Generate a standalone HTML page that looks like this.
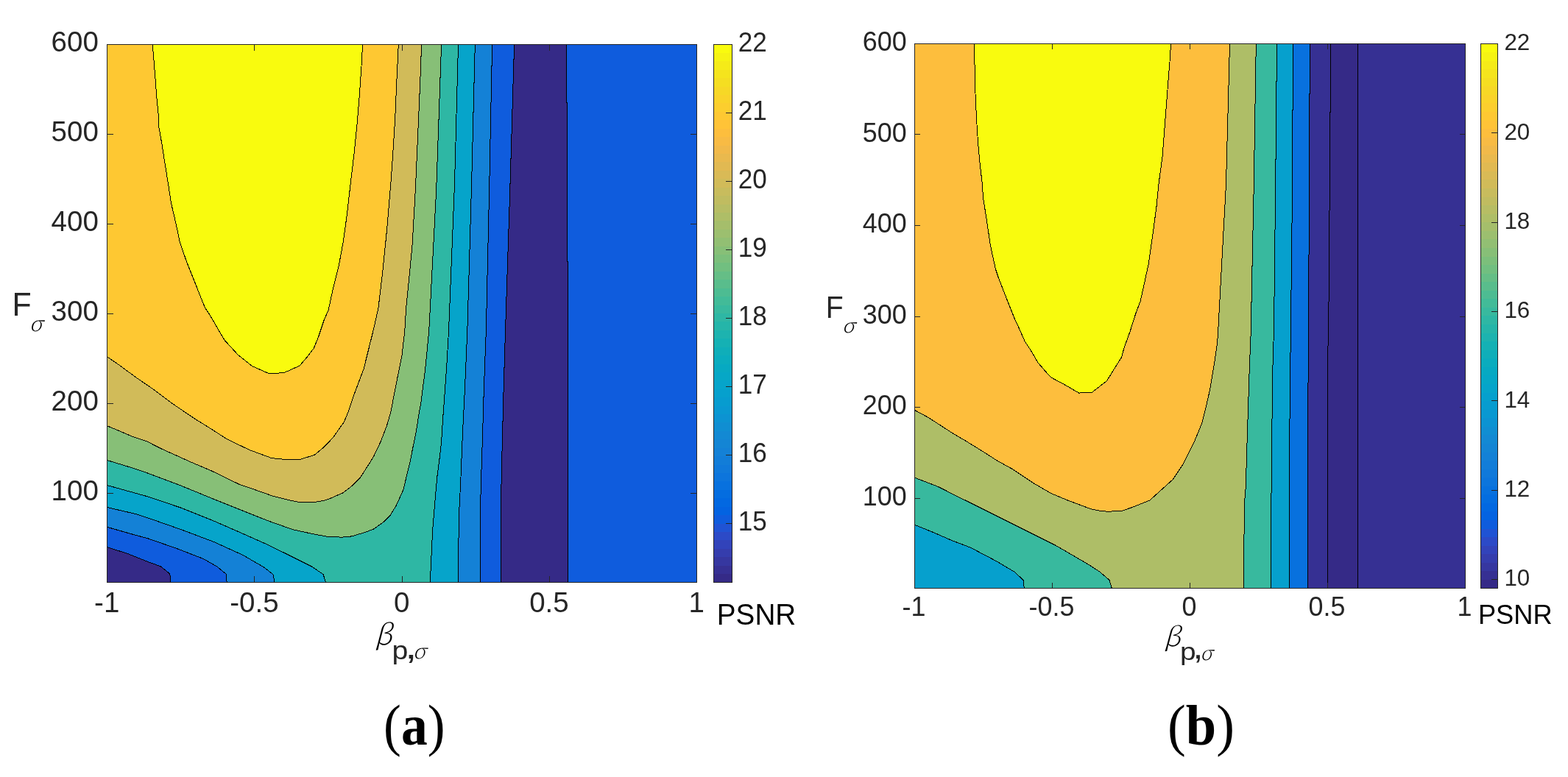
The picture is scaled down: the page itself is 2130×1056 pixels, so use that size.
<!DOCTYPE html>
<html><head><meta charset="utf-8"><title>PSNR contour plots</title>
<style>html,body{margin:0;padding:0;background:#fff;}svg{display:block;}</style></head>
<body><svg width="2130" height="1056" viewBox="0 0 2130 1056">
<rect width="2130" height="1056" fill="#fff"/>
<rect x="145.5" y="60.5" width="801.0" height="731.0" fill="#0f5cdd"/>
<polygon points="698.6,60.5 692.7,260.0 686.5,450.0 684.1,529.5 682.1,609.1 680.1,699.4 680.5,791.5 771.6,791.5 771.6,356.0 770.6,355.0 770.6,140.0 769.6,139.5 769.6,60.5" fill="#352a87"/>
<polygon points="145.5,791.5 145.5,743.6 174.1,752.7 202.5,764.1 218.4,769.8 230.9,780.0 231.5,791.5" fill="#352a87"/>
<polygon points="145.5,60.5 668.6,60.5 664.8,250.0 660.3,450.0 657.3,529.5 655.3,600.0 653.3,660.0 652.3,699.4 652.3,791.5 308.2,791.5 307.0,780.0 294.5,769.8 276.4,759.5 239.4,745.2 200.0,731.5 185.5,727.7 145.5,716.3" fill="#1481d6"/>
<polygon points="145.5,60.5 645.3,60.5 640.6,250.0 634.8,450.0 631.4,529.5 628.4,589.2 625.5,660.0 623.5,699.4 622.1,791.5 373.2,791.5 370.9,780.6 358.4,770.9 344.8,763.0 330.0,754.4 290.9,736.6 245.5,719.5 200.0,703.6 185.5,698.8 145.5,689.5" fill="#06a4ca"/>
<polygon points="145.5,60.5 622.5,60.5 617.5,250.0 609.5,450.0 606.6,499.7 601.6,569.3 599.6,600.0 597.6,619.0 593.6,649.7 587.7,719.3 584.3,791.5 442.5,791.5 439.1,780.6 423.2,769.8 398.2,757.3 364.1,740.5 330.0,725.3 290.9,708.2 245.5,690.0 200.0,674.7 145.5,659.5" fill="#2eb7a4"/>
<polygon points="145.5,60.5 599.6,60.5 592.6,260.0 582.7,450.0 577.7,501.7 571.8,547.4 569.5,560.0 565.0,588.4 560.5,610.0 557.0,628.2 551.4,650.9 547.9,665.6 542.3,678.2 538.0,687.5 530.0,700.5 520.9,709.5 507.3,719.2 494.8,723.8 477.7,728.9 464.1,730.2 443.6,729.1 426.6,726.0 398.2,719.8 364.1,707.8 330.0,694.2 290.9,678.6 245.5,659.9 200.0,642.8 179.8,635.9 145.5,625.5" fill="#87bf77"/>
<polygon points="145.5,60.5 572.4,60.5 571.8,85.8 568.4,165.3 564.2,260.0 560.0,333.5 555.6,379.3 551.6,419.0 549.8,450.0 545.9,483.8 539.8,513.6 534.0,543.5 530.9,560.0 525.2,579.3 517.3,599.8 508.2,619.1 503.6,627.0 488.9,649.8 478.6,660.0 466.1,669.7 446.8,678.2 441.4,680.0 430.0,682.0 403.9,682.0 393.6,680.0 370.5,674.1 338.9,663.0 325.0,658.2 287.5,640.0 259.3,628.0 219.5,610.0 199.7,600.0 179.8,593.2 145.5,578.7" fill="#d1bb59"/>
<polygon points="145.5,60.5 541.3,60.5 538.7,113.6 536.7,161.4 533.7,209.0 530.8,250.0 525.8,309.7 519.8,369.3 513.9,419.0 506.9,450.0 501.9,469.9 494.0,501.7 482.0,533.5 473.0,560.0 467.3,573.6 453.6,593.0 446.8,600.9 440.0,607.7 427.4,618.2 408.5,624.2 386.6,624.4 368.7,622.5 338.9,611.5 309.0,597.2 287.2,583.2 263.3,568.3 235.5,549.4 207.6,528.6 185.7,513.6 159.9,494.7 145.5,484.8" fill="#fec832"/>
<polygon points="207.2,60.5 210.6,101.7 212.6,129.5 215.2,155.4 215.6,171.3 219.5,193.2 224.5,225.0 228.5,250.0 232.5,275.9 239.4,305.7 244.4,329.5 253.4,355.4 265.3,385.2 271.1,400.0 278.5,418.2 285.9,429.5 298.4,451.1 305.2,462.5 312.0,469.9 323.4,482.4 342.7,497.7 366.0,508.0 376.8,507.2 386.5,506.3 406.9,497.2 417.7,484.7 426.3,473.3 432.5,458.0 440.5,434.1 446.1,421.6 450.7,400.0 453.2,389.2 460.2,361.4 466.1,329.5 471.1,293.7 476.1,250.0 481.0,209.0 485.0,169.3 488.0,133.5 491.0,89.8 492.6,60.5" fill="#f9fb0e"/>
<g fill="none" stroke="#000" stroke-width="1" stroke-linejoin="round" shape-rendering="crispEdges">
<polyline points="207.2,60.5 210.6,101.7 212.6,129.5 215.2,155.4 215.6,171.3 219.5,193.2 224.5,225.0 228.5,250.0 232.5,275.9 239.4,305.7 244.4,329.5 253.4,355.4 265.3,385.2 271.1,400.0 278.5,418.2 285.9,429.5 298.4,451.1 305.2,462.5 312.0,469.9 323.4,482.4 342.7,497.7 366.0,508.0 376.8,507.2 386.5,506.3 406.9,497.2 417.7,484.7 426.3,473.3 432.5,458.0 440.5,434.1 446.1,421.6 450.7,400.0 453.2,389.2 460.2,361.4 466.1,329.5 471.1,293.7 476.1,250.0 481.0,209.0 485.0,169.3 488.0,133.5 491.0,89.8 492.6,60.5"/>
<polyline points="145.5,484.8 159.9,494.7 185.7,513.6 207.6,528.6 235.5,549.4 263.3,568.3 287.2,583.2 309.0,597.2 338.9,611.5 368.7,622.5 386.6,624.4 408.5,624.2 427.4,618.2 440.0,607.7 446.8,600.9 453.6,593.0 467.3,573.6 473.0,560.0 482.0,533.5 494.0,501.7 501.9,469.9 506.9,450.0 513.9,419.0 519.8,369.3 525.8,309.7 530.8,250.0 533.7,209.0 536.7,161.4 538.7,113.6 541.3,60.5"/>
<polyline points="145.5,578.7 179.8,593.2 199.7,600.0 219.5,610.0 259.3,628.0 287.5,640.0 325.0,658.2 338.9,663.0 370.5,674.1 393.6,680.0 403.9,682.0 430.0,682.0 441.4,680.0 446.8,678.2 466.1,669.7 478.6,660.0 488.9,649.8 503.6,627.0 508.2,619.1 517.3,599.8 525.2,579.3 530.9,560.0 534.0,543.5 539.8,513.6 545.9,483.8 549.8,450.0 551.6,419.0 555.6,379.3 560.0,333.5 564.2,260.0 568.4,165.3 571.8,85.8 572.4,60.5"/>
<polyline points="145.5,625.5 179.8,635.9 200.0,642.8 245.5,659.9 290.9,678.6 330.0,694.2 364.1,707.8 398.2,719.8 426.6,726.0 443.6,729.1 464.1,730.2 477.7,728.9 494.8,723.8 507.3,719.2 520.9,709.5 530.0,700.5 538.0,687.5 542.3,678.2 547.9,665.6 551.4,650.9 557.0,628.2 560.5,610.0 565.0,588.4 569.5,560.0 571.8,547.4 577.7,501.7 582.7,450.0 592.6,260.0 599.6,60.5"/>
<polyline points="145.5,659.5 200.0,674.7 245.5,690.0 290.9,708.2 330.0,725.3 364.1,740.5 398.2,757.3 423.2,769.8 439.1,780.6 442.5,791.5"/>
<polyline points="584.3,791.5 587.7,719.3 593.6,649.7 597.6,619.0 599.6,600.0 601.6,569.3 606.6,499.7 609.5,450.0 617.5,250.0 622.5,60.5"/>
<polyline points="145.5,689.5 185.5,698.8 200.0,703.6 245.5,719.5 290.9,736.6 330.0,754.4 344.8,763.0 358.4,770.9 370.9,780.6 373.2,791.5"/>
<polyline points="622.1,791.5 623.5,699.4 625.5,660.0 628.4,589.2 631.4,529.5 634.8,450.0 640.6,250.0 645.3,60.5"/>
<polyline points="145.5,716.3 185.5,727.7 200.0,731.5 239.4,745.2 276.4,759.5 294.5,769.8 307.0,780.0 308.2,791.5"/>
<polyline points="652.3,791.5 652.3,699.4 653.3,660.0 655.3,600.0 657.3,529.5 660.3,450.0 664.8,250.0 668.6,60.5"/>
<polyline points="145.5,743.6 174.1,752.7 202.5,764.1 218.4,769.8 230.9,780.0 231.5,791.5"/>
<polyline points="698.6,60.5 692.7,260.0 686.5,450.0 684.1,529.5 682.1,609.1 680.1,699.4 680.5,791.5"/>
<polyline points="769.6,60.5 769.6,139.5 770.6,140.0 770.6,355.0 771.6,356.0 771.6,791.5"/>
</g>
<g stroke="#262626" stroke-width="1" fill="none" shape-rendering="crispEdges">
<rect x="145.5" y="60.5" width="801.0" height="731.0"/>
<path d="M345.5 791.5V783.0M345.5 60.5V69.0M546.5 791.5V783.0M546.5 60.5V69.0M746.5 791.5V783.0M746.5 60.5V69.0M145.5 182.5H154.0M946.5 182.5H938.0M145.5 304.5H154.0M946.5 304.5H938.0M145.5 426.5H154.0M946.5 426.5H938.0M145.5 548.5H154.0M946.5 548.5H938.0M145.5 670.5H154.0M946.5 670.5H938.0"/>
</g>
<defs><linearGradient id="cb1" x1="0" y1="1" x2="0" y2="0"><stop offset="0.00000" stop-color="#352a87"/><stop offset="0.01562" stop-color="#352a87"/><stop offset="0.01562" stop-color="#363093"/><stop offset="0.03125" stop-color="#363093"/><stop offset="0.03125" stop-color="#3637a0"/><stop offset="0.04688" stop-color="#3637a0"/><stop offset="0.04688" stop-color="#353dad"/><stop offset="0.06250" stop-color="#353dad"/><stop offset="0.06250" stop-color="#3243ba"/><stop offset="0.07812" stop-color="#3243ba"/><stop offset="0.07812" stop-color="#2c4ac7"/><stop offset="0.09375" stop-color="#2c4ac7"/><stop offset="0.09375" stop-color="#2053d4"/><stop offset="0.10938" stop-color="#2053d4"/><stop offset="0.10938" stop-color="#0f5cdd"/><stop offset="0.12500" stop-color="#0f5cdd"/><stop offset="0.12500" stop-color="#0363e1"/><stop offset="0.14062" stop-color="#0363e1"/><stop offset="0.14062" stop-color="#0268e1"/><stop offset="0.15625" stop-color="#0268e1"/><stop offset="0.15625" stop-color="#046de0"/><stop offset="0.17188" stop-color="#046de0"/><stop offset="0.17188" stop-color="#0871de"/><stop offset="0.18750" stop-color="#0871de"/><stop offset="0.18750" stop-color="#0d75dc"/><stop offset="0.20312" stop-color="#0d75dc"/><stop offset="0.20312" stop-color="#1079da"/><stop offset="0.21875" stop-color="#1079da"/><stop offset="0.21875" stop-color="#127dd8"/><stop offset="0.23438" stop-color="#127dd8"/><stop offset="0.23438" stop-color="#1481d6"/><stop offset="0.25000" stop-color="#1481d6"/><stop offset="0.25000" stop-color="#1485d4"/><stop offset="0.26562" stop-color="#1485d4"/><stop offset="0.26562" stop-color="#1389d3"/><stop offset="0.28125" stop-color="#1389d3"/><stop offset="0.28125" stop-color="#108ed2"/><stop offset="0.29688" stop-color="#108ed2"/><stop offset="0.29688" stop-color="#0c93d2"/><stop offset="0.31250" stop-color="#0c93d2"/><stop offset="0.31250" stop-color="#0998d1"/><stop offset="0.32812" stop-color="#0998d1"/><stop offset="0.32812" stop-color="#079ccf"/><stop offset="0.34375" stop-color="#079ccf"/><stop offset="0.34375" stop-color="#06a0cd"/><stop offset="0.35938" stop-color="#06a0cd"/><stop offset="0.35938" stop-color="#06a4ca"/><stop offset="0.37500" stop-color="#06a4ca"/><stop offset="0.37500" stop-color="#06a7c6"/><stop offset="0.39062" stop-color="#06a7c6"/><stop offset="0.39062" stop-color="#07a9c2"/><stop offset="0.40625" stop-color="#07a9c2"/><stop offset="0.40625" stop-color="#0aacbe"/><stop offset="0.42188" stop-color="#0aacbe"/><stop offset="0.42188" stop-color="#0faeb9"/><stop offset="0.43750" stop-color="#0faeb9"/><stop offset="0.43750" stop-color="#15b1b4"/><stop offset="0.45312" stop-color="#15b1b4"/><stop offset="0.45312" stop-color="#1db3af"/><stop offset="0.46875" stop-color="#1db3af"/><stop offset="0.46875" stop-color="#25b5a9"/><stop offset="0.48438" stop-color="#25b5a9"/><stop offset="0.48438" stop-color="#2eb7a4"/><stop offset="0.50000" stop-color="#2eb7a4"/><stop offset="0.50000" stop-color="#38b99e"/><stop offset="0.51562" stop-color="#38b99e"/><stop offset="0.51562" stop-color="#42bb98"/><stop offset="0.53125" stop-color="#42bb98"/><stop offset="0.53125" stop-color="#4dbc92"/><stop offset="0.54688" stop-color="#4dbc92"/><stop offset="0.54688" stop-color="#59bd8c"/><stop offset="0.56250" stop-color="#59bd8c"/><stop offset="0.56250" stop-color="#65be86"/><stop offset="0.57812" stop-color="#65be86"/><stop offset="0.57812" stop-color="#71bf80"/><stop offset="0.59375" stop-color="#71bf80"/><stop offset="0.59375" stop-color="#7cbf7b"/><stop offset="0.60938" stop-color="#7cbf7b"/><stop offset="0.60938" stop-color="#87bf77"/><stop offset="0.62500" stop-color="#87bf77"/><stop offset="0.62500" stop-color="#92bf73"/><stop offset="0.64062" stop-color="#92bf73"/><stop offset="0.64062" stop-color="#9cbf6f"/><stop offset="0.65625" stop-color="#9cbf6f"/><stop offset="0.65625" stop-color="#a5be6b"/><stop offset="0.67188" stop-color="#a5be6b"/><stop offset="0.67188" stop-color="#aebe67"/><stop offset="0.68750" stop-color="#aebe67"/><stop offset="0.68750" stop-color="#b7bd64"/><stop offset="0.70312" stop-color="#b7bd64"/><stop offset="0.70312" stop-color="#c0bc60"/><stop offset="0.71875" stop-color="#c0bc60"/><stop offset="0.71875" stop-color="#c8bc5d"/><stop offset="0.73438" stop-color="#c8bc5d"/><stop offset="0.73438" stop-color="#d1bb59"/><stop offset="0.75000" stop-color="#d1bb59"/><stop offset="0.75000" stop-color="#d9ba56"/><stop offset="0.76562" stop-color="#d9ba56"/><stop offset="0.76562" stop-color="#e1b952"/><stop offset="0.78125" stop-color="#e1b952"/><stop offset="0.78125" stop-color="#e9b94e"/><stop offset="0.79688" stop-color="#e9b94e"/><stop offset="0.79688" stop-color="#f1b94a"/><stop offset="0.81250" stop-color="#f1b94a"/><stop offset="0.81250" stop-color="#f8bb44"/><stop offset="0.82812" stop-color="#f8bb44"/><stop offset="0.82812" stop-color="#fdbe3d"/><stop offset="0.84375" stop-color="#fdbe3d"/><stop offset="0.84375" stop-color="#ffc337"/><stop offset="0.85938" stop-color="#ffc337"/><stop offset="0.85938" stop-color="#fec832"/><stop offset="0.87500" stop-color="#fec832"/><stop offset="0.87500" stop-color="#fcce2e"/><stop offset="0.89062" stop-color="#fcce2e"/><stop offset="0.89062" stop-color="#fad32a"/><stop offset="0.90625" stop-color="#fad32a"/><stop offset="0.90625" stop-color="#f7d826"/><stop offset="0.92188" stop-color="#f7d826"/><stop offset="0.92188" stop-color="#f5de21"/><stop offset="0.93750" stop-color="#f5de21"/><stop offset="0.93750" stop-color="#f5e41d"/><stop offset="0.95312" stop-color="#f5e41d"/><stop offset="0.95312" stop-color="#f5eb18"/><stop offset="0.96875" stop-color="#f5eb18"/><stop offset="0.96875" stop-color="#f6f313"/><stop offset="0.98438" stop-color="#f6f313"/><stop offset="0.98438" stop-color="#f9fb0e"/><stop offset="1.00000" stop-color="#f9fb0e"/></linearGradient></defs>
<rect x="969.5" y="60.5" width="25.0" height="731.0" fill="url(#cb1)"/>
<g stroke="#262626" stroke-width="1" fill="none" shape-rendering="crispEdges">
<rect x="969.5" y="60.5" width="25.0" height="731.0"/>
<path d="M994.5 153.5H986.0M994.5 246.5H986.0M994.5 339.5H986.0M994.5 432.5H986.0M994.5 525.5H986.0M994.5 618.5H986.0M994.5 711.5H986.0"/>
</g>
<rect x="1242.5" y="59.5" width="748.0" height="740.0" fill="#363093"/>
<polygon points="1803.5,799.5 1803.7,479.8 1804.7,450.0 1806.3,250.0 1807.7,59.5 1844.5,59.5 1844.5,799.5" fill="#352a87"/>
<polygon points="1242.5,59.5 1779.3,59.5 1778.5,250.0 1777.5,450.0 1776.3,623.9 1776.3,799.5 1242.5,799.5" fill="#0871de"/>
<polygon points="1242.5,59.5 1756.4,59.5 1755.6,250.0 1753.4,450.0 1752.6,509.7 1751.4,631.8 1751.4,799.5 1242.5,799.5" fill="#06a0cd"/>
<polygon points="1242.5,59.5 1734.5,59.5 1732.7,250.0 1730.5,450.0 1729.1,489.8 1728.2,549.4 1727.2,660.0 1726.6,693.5 1726.2,799.5 1391.3,799.5 1390.0,788.4 1378.2,777.3 1354.3,763.1 1318.5,744.2 1294.7,735.2 1264.8,722.3 1242.5,713.3" fill="#38b99e"/>
<polygon points="1242.5,59.5 1706.3,59.5 1703.3,250.0 1699.1,455.0 1697.3,499.7 1695.3,561.4 1693.4,621.0 1692.4,660.0 1690.8,679.5 1689.8,739.2 1689.2,799.5 1510.3,799.5 1507.0,788.4 1493.7,777.0 1480.0,768.0 1459.7,756.1 1433.9,741.2 1394.1,721.3 1354.3,701.4 1314.5,681.5 1298.9,673.9 1274.8,661.6 1242.5,649.2" fill="#aebe67"/>
<polygon points="1242.5,59.5 1670.5,59.5 1665.5,250.0 1654.4,455.0 1653.6,465.9 1649.6,493.7 1643.6,529.5 1637.7,555.4 1632.7,575.3 1622.5,600.0 1607.1,630.8 1593.2,651.7 1561.8,680.0 1539.1,689.1 1524.3,694.2 1505.0,695.3 1493.6,694.2 1482.3,691.9 1450.5,680.0 1427.9,670.6 1404.0,656.7 1374.2,636.9 1354.3,625.9 1334.4,613.1 1313.1,600.0 1294.7,589.2 1260.9,567.3 1242.5,557.4" fill="#fdbe3d"/>
<polygon points="1323.5,59.5 1324.5,115.6 1326.5,161.4 1328.5,193.2 1331.4,225.0 1334.4,250.0 1335.4,267.9 1340.4,299.7 1345.4,333.5 1352.3,365.3 1356.3,377.3 1366.3,403.1 1378.2,433.0 1386.1,450.0 1392.1,463.9 1400.1,475.9 1410.0,492.8 1421.9,506.7 1428.9,513.6 1445.8,522.6 1465.7,534.1 1483.6,533.1 1503.5,517.6 1513.4,501.7 1523.4,485.8 1527.3,471.9 1535.3,450.0 1537.3,442.9 1543.2,425.0 1549.2,409.1 1560.1,359.4 1566.1,317.6 1571.1,279.8 1574.0,250.0 1579.0,213.1 1583.0,161.4 1586.0,121.6 1589.0,83.8 1590.6,59.5" fill="#f9fb0e"/>
<g fill="none" stroke="#000" stroke-width="1" stroke-linejoin="round" shape-rendering="crispEdges">
<polyline points="1323.5,59.5 1324.5,115.6 1326.5,161.4 1328.5,193.2 1331.4,225.0 1334.4,250.0 1335.4,267.9 1340.4,299.7 1345.4,333.5 1352.3,365.3 1356.3,377.3 1366.3,403.1 1378.2,433.0 1386.1,450.0 1392.1,463.9 1400.1,475.9 1410.0,492.8 1421.9,506.7 1428.9,513.6 1445.8,522.6 1465.7,534.1 1483.6,533.1 1503.5,517.6 1513.4,501.7 1523.4,485.8 1527.3,471.9 1535.3,450.0 1537.3,442.9 1543.2,425.0 1549.2,409.1 1560.1,359.4 1566.1,317.6 1571.1,279.8 1574.0,250.0 1579.0,213.1 1583.0,161.4 1586.0,121.6 1589.0,83.8 1590.6,59.5"/>
<polyline points="1242.5,557.4 1260.9,567.3 1294.7,589.2 1313.1,600.0 1334.4,613.1 1354.3,625.9 1374.2,636.9 1404.0,656.7 1427.9,670.6 1450.5,680.0 1482.3,691.9 1493.6,694.2 1505.0,695.3 1524.3,694.2 1539.1,689.1 1561.8,680.0 1593.2,651.7 1607.1,630.8 1622.5,600.0 1632.7,575.3 1637.7,555.4 1643.6,529.5 1649.6,493.7 1653.6,465.9 1654.4,455.0 1665.5,250.0 1670.5,59.5"/>
<polyline points="1242.5,649.2 1274.8,661.6 1298.9,673.9 1314.5,681.5 1354.3,701.4 1394.1,721.3 1433.9,741.2 1459.7,756.1 1480.0,768.0 1493.7,777.0 1507.0,788.4 1510.3,799.5"/>
<polyline points="1689.2,799.5 1689.8,739.2 1690.8,679.5 1692.4,660.0 1693.4,621.0 1695.3,561.4 1697.3,499.7 1699.1,455.0 1703.3,250.0 1706.3,59.5"/>
<polyline points="1242.5,713.3 1264.8,722.3 1294.7,735.2 1318.5,744.2 1354.3,763.1 1378.2,777.3 1390.0,788.4 1391.3,799.5"/>
<polyline points="1726.2,799.5 1726.6,693.5 1727.2,660.0 1728.2,549.4 1729.1,489.8 1730.5,450.0 1732.7,250.0 1734.5,59.5"/>
<polyline points="1751.4,799.5 1751.4,631.8 1752.6,509.7 1753.4,450.0 1755.6,250.0 1756.4,59.5"/>
<polyline points="1776.3,799.5 1776.3,623.9 1777.5,450.0 1778.5,250.0 1779.3,59.5"/>
<polyline points="1803.5,799.5 1803.7,479.8 1804.7,450.0 1806.3,250.0 1807.7,59.5"/>
<polyline points="1844.5,799.5 1844.5,59.5"/>
</g>
<g stroke="#262626" stroke-width="1" fill="none" shape-rendering="crispEdges">
<rect x="1242.5" y="59.5" width="748.0" height="740.0"/>
<path d="M1429.5 799.5V792.0M1429.5 59.5V67.0M1616.5 799.5V792.0M1616.5 59.5V67.0M1803.5 799.5V792.0M1803.5 59.5V67.0M1242.5 182.5H1250.0M1990.5 182.5H1983.0M1242.5 306.5H1250.0M1990.5 306.5H1983.0M1242.5 430.5H1250.0M1990.5 430.5H1983.0M1242.5 553.5H1250.0M1990.5 553.5H1983.0M1242.5 677.5H1250.0M1990.5 677.5H1983.0"/>
</g>
<defs><linearGradient id="cb2" x1="0" y1="1" x2="0" y2="0"><stop offset="0.00000" stop-color="#352a87"/><stop offset="0.01562" stop-color="#352a87"/><stop offset="0.01562" stop-color="#363093"/><stop offset="0.03125" stop-color="#363093"/><stop offset="0.03125" stop-color="#3637a0"/><stop offset="0.04688" stop-color="#3637a0"/><stop offset="0.04688" stop-color="#353dad"/><stop offset="0.06250" stop-color="#353dad"/><stop offset="0.06250" stop-color="#3243ba"/><stop offset="0.07812" stop-color="#3243ba"/><stop offset="0.07812" stop-color="#2c4ac7"/><stop offset="0.09375" stop-color="#2c4ac7"/><stop offset="0.09375" stop-color="#2053d4"/><stop offset="0.10938" stop-color="#2053d4"/><stop offset="0.10938" stop-color="#0f5cdd"/><stop offset="0.12500" stop-color="#0f5cdd"/><stop offset="0.12500" stop-color="#0363e1"/><stop offset="0.14062" stop-color="#0363e1"/><stop offset="0.14062" stop-color="#0268e1"/><stop offset="0.15625" stop-color="#0268e1"/><stop offset="0.15625" stop-color="#046de0"/><stop offset="0.17188" stop-color="#046de0"/><stop offset="0.17188" stop-color="#0871de"/><stop offset="0.18750" stop-color="#0871de"/><stop offset="0.18750" stop-color="#0d75dc"/><stop offset="0.20312" stop-color="#0d75dc"/><stop offset="0.20312" stop-color="#1079da"/><stop offset="0.21875" stop-color="#1079da"/><stop offset="0.21875" stop-color="#127dd8"/><stop offset="0.23438" stop-color="#127dd8"/><stop offset="0.23438" stop-color="#1481d6"/><stop offset="0.25000" stop-color="#1481d6"/><stop offset="0.25000" stop-color="#1485d4"/><stop offset="0.26562" stop-color="#1485d4"/><stop offset="0.26562" stop-color="#1389d3"/><stop offset="0.28125" stop-color="#1389d3"/><stop offset="0.28125" stop-color="#108ed2"/><stop offset="0.29688" stop-color="#108ed2"/><stop offset="0.29688" stop-color="#0c93d2"/><stop offset="0.31250" stop-color="#0c93d2"/><stop offset="0.31250" stop-color="#0998d1"/><stop offset="0.32812" stop-color="#0998d1"/><stop offset="0.32812" stop-color="#079ccf"/><stop offset="0.34375" stop-color="#079ccf"/><stop offset="0.34375" stop-color="#06a0cd"/><stop offset="0.35938" stop-color="#06a0cd"/><stop offset="0.35938" stop-color="#06a4ca"/><stop offset="0.37500" stop-color="#06a4ca"/><stop offset="0.37500" stop-color="#06a7c6"/><stop offset="0.39062" stop-color="#06a7c6"/><stop offset="0.39062" stop-color="#07a9c2"/><stop offset="0.40625" stop-color="#07a9c2"/><stop offset="0.40625" stop-color="#0aacbe"/><stop offset="0.42188" stop-color="#0aacbe"/><stop offset="0.42188" stop-color="#0faeb9"/><stop offset="0.43750" stop-color="#0faeb9"/><stop offset="0.43750" stop-color="#15b1b4"/><stop offset="0.45312" stop-color="#15b1b4"/><stop offset="0.45312" stop-color="#1db3af"/><stop offset="0.46875" stop-color="#1db3af"/><stop offset="0.46875" stop-color="#25b5a9"/><stop offset="0.48438" stop-color="#25b5a9"/><stop offset="0.48438" stop-color="#2eb7a4"/><stop offset="0.50000" stop-color="#2eb7a4"/><stop offset="0.50000" stop-color="#38b99e"/><stop offset="0.51562" stop-color="#38b99e"/><stop offset="0.51562" stop-color="#42bb98"/><stop offset="0.53125" stop-color="#42bb98"/><stop offset="0.53125" stop-color="#4dbc92"/><stop offset="0.54688" stop-color="#4dbc92"/><stop offset="0.54688" stop-color="#59bd8c"/><stop offset="0.56250" stop-color="#59bd8c"/><stop offset="0.56250" stop-color="#65be86"/><stop offset="0.57812" stop-color="#65be86"/><stop offset="0.57812" stop-color="#71bf80"/><stop offset="0.59375" stop-color="#71bf80"/><stop offset="0.59375" stop-color="#7cbf7b"/><stop offset="0.60938" stop-color="#7cbf7b"/><stop offset="0.60938" stop-color="#87bf77"/><stop offset="0.62500" stop-color="#87bf77"/><stop offset="0.62500" stop-color="#92bf73"/><stop offset="0.64062" stop-color="#92bf73"/><stop offset="0.64062" stop-color="#9cbf6f"/><stop offset="0.65625" stop-color="#9cbf6f"/><stop offset="0.65625" stop-color="#a5be6b"/><stop offset="0.67188" stop-color="#a5be6b"/><stop offset="0.67188" stop-color="#aebe67"/><stop offset="0.68750" stop-color="#aebe67"/><stop offset="0.68750" stop-color="#b7bd64"/><stop offset="0.70312" stop-color="#b7bd64"/><stop offset="0.70312" stop-color="#c0bc60"/><stop offset="0.71875" stop-color="#c0bc60"/><stop offset="0.71875" stop-color="#c8bc5d"/><stop offset="0.73438" stop-color="#c8bc5d"/><stop offset="0.73438" stop-color="#d1bb59"/><stop offset="0.75000" stop-color="#d1bb59"/><stop offset="0.75000" stop-color="#d9ba56"/><stop offset="0.76562" stop-color="#d9ba56"/><stop offset="0.76562" stop-color="#e1b952"/><stop offset="0.78125" stop-color="#e1b952"/><stop offset="0.78125" stop-color="#e9b94e"/><stop offset="0.79688" stop-color="#e9b94e"/><stop offset="0.79688" stop-color="#f1b94a"/><stop offset="0.81250" stop-color="#f1b94a"/><stop offset="0.81250" stop-color="#f8bb44"/><stop offset="0.82812" stop-color="#f8bb44"/><stop offset="0.82812" stop-color="#fdbe3d"/><stop offset="0.84375" stop-color="#fdbe3d"/><stop offset="0.84375" stop-color="#ffc337"/><stop offset="0.85938" stop-color="#ffc337"/><stop offset="0.85938" stop-color="#fec832"/><stop offset="0.87500" stop-color="#fec832"/><stop offset="0.87500" stop-color="#fcce2e"/><stop offset="0.89062" stop-color="#fcce2e"/><stop offset="0.89062" stop-color="#fad32a"/><stop offset="0.90625" stop-color="#fad32a"/><stop offset="0.90625" stop-color="#f7d826"/><stop offset="0.92188" stop-color="#f7d826"/><stop offset="0.92188" stop-color="#f5de21"/><stop offset="0.93750" stop-color="#f5de21"/><stop offset="0.93750" stop-color="#f5e41d"/><stop offset="0.95312" stop-color="#f5e41d"/><stop offset="0.95312" stop-color="#f5eb18"/><stop offset="0.96875" stop-color="#f5eb18"/><stop offset="0.96875" stop-color="#f6f313"/><stop offset="0.98438" stop-color="#f6f313"/><stop offset="0.98438" stop-color="#f9fb0e"/><stop offset="1.00000" stop-color="#f9fb0e"/></linearGradient></defs>
<rect x="2011.5" y="59.5" width="23.0" height="740.0" fill="url(#cb2)"/>
<g stroke="#262626" stroke-width="1" fill="none" shape-rendering="crispEdges">
<rect x="2011.5" y="59.5" width="23.0" height="740.0"/>
<path d="M2034.5 180.5H2026.0M2034.5 302.5H2026.0M2034.5 423.5H2026.0M2034.5 544.5H2026.0M2034.5 666.5H2026.0M2034.5 787.5H2026.0"/>
</g>
<g fill="#262626">
<text transform="translate(133.80 680.20) scale(0.990 1)" font-size="38.9" text-anchor="end" font-family='"Liberation Sans", Arial, sans-serif' >100</text>
<text transform="translate(133.80 558.20) scale(0.990 1)" font-size="38.9" text-anchor="end" font-family='"Liberation Sans", Arial, sans-serif' >200</text>
<text transform="translate(133.80 436.20) scale(0.990 1)" font-size="38.9" text-anchor="end" font-family='"Liberation Sans", Arial, sans-serif' >300</text>
<text transform="translate(133.80 314.20) scale(0.990 1)" font-size="38.9" text-anchor="end" font-family='"Liberation Sans", Arial, sans-serif' >400</text>
<text transform="translate(133.80 192.20) scale(0.990 1)" font-size="38.9" text-anchor="end" font-family='"Liberation Sans", Arial, sans-serif' >500</text>
<text transform="translate(133.80 70.20) scale(0.990 1)" font-size="38.9" text-anchor="end" font-family='"Liberation Sans", Arial, sans-serif' >600</text>
<text transform="translate(145.20 831.90) scale(0.990 1)" font-size="38.9" text-anchor="middle" font-family='"Liberation Sans", Arial, sans-serif' >-1</text>
<text transform="translate(345.45 831.90) scale(0.990 1)" font-size="38.9" text-anchor="middle" font-family='"Liberation Sans", Arial, sans-serif' >-0.5</text>
<text transform="translate(545.70 831.90) scale(0.990 1)" font-size="38.9" text-anchor="middle" font-family='"Liberation Sans", Arial, sans-serif' >0</text>
<text transform="translate(745.95 831.90) scale(0.990 1)" font-size="38.9" text-anchor="middle" font-family='"Liberation Sans", Arial, sans-serif' >0.5</text>
<text transform="translate(946.20 831.90) scale(0.990 1)" font-size="38.9" text-anchor="middle" font-family='"Liberation Sans", Arial, sans-serif' >1</text>
<text transform="translate(1002.80 721.02) scale(0.975 1)" font-size="36.0" text-anchor="start" font-family='"Liberation Sans", Arial, sans-serif' stroke="none">15</text>
<text transform="translate(1002.80 628.06) scale(0.975 1)" font-size="36.0" text-anchor="start" font-family='"Liberation Sans", Arial, sans-serif' stroke="none">16</text>
<text transform="translate(1002.80 535.10) scale(0.975 1)" font-size="36.0" text-anchor="start" font-family='"Liberation Sans", Arial, sans-serif' stroke="none">17</text>
<text transform="translate(1002.80 442.14) scale(0.975 1)" font-size="36.0" text-anchor="start" font-family='"Liberation Sans", Arial, sans-serif' stroke="none">18</text>
<text transform="translate(1002.80 349.18) scale(0.975 1)" font-size="36.0" text-anchor="start" font-family='"Liberation Sans", Arial, sans-serif' stroke="none">19</text>
<text transform="translate(1002.80 256.22) scale(0.975 1)" font-size="36.0" text-anchor="start" font-family='"Liberation Sans", Arial, sans-serif' stroke="none">20</text>
<text transform="translate(1002.80 163.26) scale(0.975 1)" font-size="36.0" text-anchor="start" font-family='"Liberation Sans", Arial, sans-serif' stroke="none">21</text>
<text transform="translate(1002.80 70.30) scale(0.975 1)" font-size="36.0" text-anchor="start" font-family='"Liberation Sans", Arial, sans-serif' stroke="none">22</text>
<text transform="translate(1231.60 687.00) scale(0.975 1)" font-size="36.8" text-anchor="end" font-family='"Liberation Sans", Arial, sans-serif' >100</text>
<text transform="translate(1231.60 563.40) scale(0.975 1)" font-size="36.8" text-anchor="end" font-family='"Liberation Sans", Arial, sans-serif' >200</text>
<text transform="translate(1231.60 439.80) scale(0.975 1)" font-size="36.8" text-anchor="end" font-family='"Liberation Sans", Arial, sans-serif' >300</text>
<text transform="translate(1231.60 316.20) scale(0.975 1)" font-size="36.8" text-anchor="end" font-family='"Liberation Sans", Arial, sans-serif' >400</text>
<text transform="translate(1231.60 192.60) scale(0.975 1)" font-size="36.8" text-anchor="end" font-family='"Liberation Sans", Arial, sans-serif' >500</text>
<text transform="translate(1231.60 69.00) scale(0.975 1)" font-size="36.8" text-anchor="end" font-family='"Liberation Sans", Arial, sans-serif' >600</text>
<text transform="translate(1241.50 837.30) scale(0.975 1)" font-size="36.8" text-anchor="middle" font-family='"Liberation Sans", Arial, sans-serif' >-1</text>
<text transform="translate(1428.50 837.30) scale(0.975 1)" font-size="36.8" text-anchor="middle" font-family='"Liberation Sans", Arial, sans-serif' >-0.5</text>
<text transform="translate(1615.50 837.30) scale(0.975 1)" font-size="36.8" text-anchor="middle" font-family='"Liberation Sans", Arial, sans-serif' >0</text>
<text transform="translate(1802.50 837.30) scale(0.975 1)" font-size="36.8" text-anchor="middle" font-family='"Liberation Sans", Arial, sans-serif' >0.5</text>
<text transform="translate(1989.50 837.30) scale(0.975 1)" font-size="36.8" text-anchor="middle" font-family='"Liberation Sans", Arial, sans-serif' >1</text>
<text transform="translate(2043.40 796.36) scale(0.980 1)" font-size="32.0" text-anchor="start" font-family='"Liberation Sans", Arial, sans-serif' stroke="none">10</text>
<text transform="translate(2043.40 675.00) scale(0.980 1)" font-size="32.0" text-anchor="start" font-family='"Liberation Sans", Arial, sans-serif' stroke="none">12</text>
<text transform="translate(2043.40 553.64) scale(0.980 1)" font-size="32.0" text-anchor="start" font-family='"Liberation Sans", Arial, sans-serif' stroke="none">14</text>
<text transform="translate(2043.40 432.28) scale(0.980 1)" font-size="32.0" text-anchor="start" font-family='"Liberation Sans", Arial, sans-serif' stroke="none">16</text>
<text transform="translate(2043.40 310.92) scale(0.980 1)" font-size="32.0" text-anchor="start" font-family='"Liberation Sans", Arial, sans-serif' stroke="none">18</text>
<text transform="translate(2043.40 189.56) scale(0.980 1)" font-size="32.0" text-anchor="start" font-family='"Liberation Sans", Arial, sans-serif' stroke="none">20</text>
<text transform="translate(2043.40 68.20) scale(0.980 1)" font-size="32.0" text-anchor="start" font-family='"Liberation Sans", Arial, sans-serif' stroke="none">22</text>
</g>
<text transform="translate(16.47 428.80) scale(0.9601 1)" font-size="44.64" font-family='"Liberation Sans", Arial, sans-serif' font-style="normal" font-weight="normal" fill="#262626" >F</text>
<text transform="translate(40.23 449.61) scale(0.9953 1)" font-size="28.85" font-family='"Noto Serif CJK SC", "Liberation Serif", serif' font-style="italic" font-weight="200" fill="#000" >σ</text>
<text transform="translate(508.52 876.42) scale(1.0331 1)" font-size="38.40" font-family='"Noto Serif CJK SC", "Liberation Serif", serif' font-style="italic" font-weight="200" fill="#000" >β</text>
<text transform="translate(532.55 896.47) scale(1.0962 1)" font-size="35.87" font-family='"Liberation Sans", Arial, sans-serif' font-style="normal" font-weight="normal" fill="#262626" >p</text>
<text transform="translate(550.28 894.78) scale(1.2319 1)" font-size="47.08" font-family='"Liberation Sans", Arial, sans-serif' font-style="normal" font-weight="normal" fill="#262626" >,</text>
<text transform="translate(561.26 895.42) scale(0.9974 1)" font-size="28.46" font-family='"Noto Serif CJK SC", "Liberation Serif", serif' font-style="italic" font-weight="200" fill="#000" >σ</text>
<text transform="translate(973.81 849.40) scale(0.9567 1)" font-size="40.42" font-family='"Liberation Sans", Arial, sans-serif' font-style="normal" font-weight="normal" fill="#000" >PSNR</text>
<text transform="translate(1121.67 431.90) scale(0.9073 1)" font-size="43.19" font-family='"Liberation Sans", Arial, sans-serif' font-style="normal" font-weight="normal" fill="#262626" >F</text>
<text transform="translate(1144.13 451.73) scale(1.0231 1)" font-size="27.12" font-family='"Noto Serif CJK SC", "Liberation Serif", serif' font-style="italic" font-weight="200" fill="#000" >σ</text>
<text transform="translate(1580.41 877.54) scale(1.0669 1)" font-size="35.80" font-family='"Noto Serif CJK SC", "Liberation Serif", serif' font-style="italic" font-weight="200" fill="#000" >β</text>
<text transform="translate(1602.88 897.03) scale(1.1706 1)" font-size="33.20" font-family='"Liberation Sans", Arial, sans-serif' font-style="normal" font-weight="normal" fill="#262626" >p</text>
<text transform="translate(1620.40 895.31) scale(1.1429 1)" font-size="43.75" font-family='"Liberation Sans", Arial, sans-serif' font-style="normal" font-weight="normal" fill="#262626" >,</text>
<text transform="translate(1630.64 896.53) scale(0.9815 1)" font-size="27.12" font-family='"Noto Serif CJK SC", "Liberation Serif", serif' font-style="italic" font-weight="200" fill="#000" >σ</text>
<text transform="translate(2007.89 847.53) scale(0.9696 1)" font-size="37.46" font-family='"Liberation Sans", Arial, sans-serif' font-style="normal" font-weight="normal" fill="#000" >PSNR</text>
<text transform="translate(521.04 1012.49) scale(0.9216 1)" font-size="77.67" font-family='"Liberation Serif", "DejaVu Serif", serif' font-style="normal" font-weight="bold" fill="#000" ><tspan font-weight="normal">(</tspan>a<tspan font-weight="normal">)</tspan></text>
<text transform="translate(1585.92 1012.49) scale(0.9589 1)" font-size="77.67" font-family='"Liberation Serif", "DejaVu Serif", serif' font-style="normal" font-weight="bold" fill="#000" ><tspan font-weight="normal">(</tspan>b<tspan font-weight="normal">)</tspan></text>
</svg></body></html>
